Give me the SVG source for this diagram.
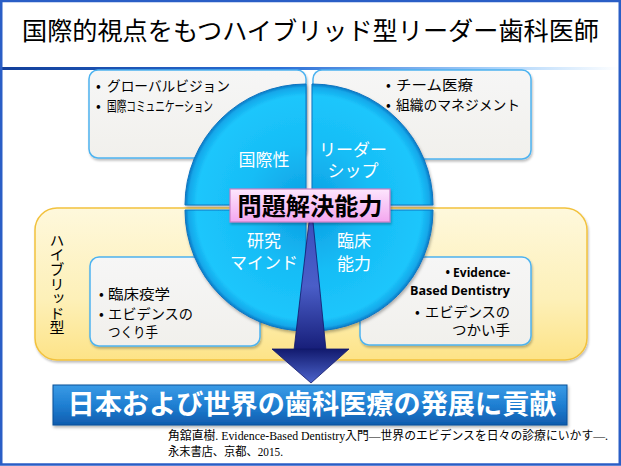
<svg xmlns="http://www.w3.org/2000/svg" width="621" height="466" viewBox="0 0 621 466">
<style>
.jp{font-family:"Noto Sans CJK JP","Liberation Sans",sans-serif;}
.bul{font-family:"Noto Sans CJK JP","Liberation Sans",sans-serif;font-size:14px;fill:#000;}
.ql{font-family:"Noto Sans CJK JP","Liberation Sans",sans-serif;font-size:17px;fill:#fff;text-anchor:middle;}
.box{fill:url(#boxg);stroke:#4db3f0;stroke-width:1.5;filter:url(#sh);}
.quad{stroke:#0b74c0;stroke-width:1;filter:url(#sh2);}
</style>
<defs>
<linearGradient id="hdr" x1="0" y1="0" x2="1" y2="0">
<stop offset="0" stop-color="#123f9a"/><stop offset="0.45" stop-color="#2b6fd6"/><stop offset="0.8" stop-color="#a9d2fa"/><stop offset="1" stop-color="#ffffff"/>
</linearGradient>
<linearGradient id="boxg" x1="0" y1="0" x2="0" y2="1">
<stop offset="0" stop-color="#f6f6f6"/><stop offset="1" stop-color="#f1f0ec"/>
</linearGradient>
<linearGradient id="yel" x1="0" y1="0" x2="0" y2="1">
<stop offset="0" stop-color="#fef8dc"/><stop offset="0.6" stop-color="#fdf0b8"/><stop offset="1" stop-color="#fde387"/>
</linearGradient>
<linearGradient id="pink" x1="0" y1="0" x2="0" y2="1">
<stop offset="0" stop-color="#fde6fd"/><stop offset="1" stop-color="#f3a6ef"/>
</linearGradient>
<linearGradient id="ban" x1="0" y1="0" x2="0" y2="1">
<stop offset="0" stop-color="#3a9be6"/><stop offset="0.5" stop-color="#1f7fd2"/><stop offset="1" stop-color="#0f5cae"/>
</linearGradient>
<linearGradient id="shaft" x1="0" y1="0" x2="0" y2="1">
<stop offset="0" stop-color="#3d4fbe"/><stop offset="0.5" stop-color="#4a5ec8"/><stop offset="1" stop-color="#161d78"/>
</linearGradient>
<linearGradient id="head" x1="0" y1="0" x2="0" y2="1">
<stop offset="0" stop-color="#121a6e"/><stop offset="1" stop-color="#4c64cc"/>
</linearGradient>
<radialGradient id="qTL" gradientUnits="userSpaceOnUse" cx="306" cy="205" r="121">
<stop offset="0" stop-color="#0c9ee2"/><stop offset="0.5" stop-color="#17bdf6"/><stop offset="0.9" stop-color="#1cc6fc"/><stop offset="0.97" stop-color="#14a8ea"/><stop offset="1" stop-color="#0b7ac6"/>
</radialGradient>
<radialGradient id="qTR" gradientUnits="userSpaceOnUse" cx="312" cy="205" r="121">
<stop offset="0" stop-color="#0c9ee2"/><stop offset="0.5" stop-color="#17bdf6"/><stop offset="0.9" stop-color="#1cc6fc"/><stop offset="0.97" stop-color="#14a8ea"/><stop offset="1" stop-color="#0b7ac6"/>
</radialGradient>
<radialGradient id="qBL" gradientUnits="userSpaceOnUse" cx="306" cy="210" r="121">
<stop offset="0" stop-color="#0c9ee2"/><stop offset="0.5" stop-color="#17bdf6"/><stop offset="0.9" stop-color="#1cc6fc"/><stop offset="0.97" stop-color="#14a8ea"/><stop offset="1" stop-color="#0b7ac6"/>
</radialGradient>
<radialGradient id="qBR" gradientUnits="userSpaceOnUse" cx="312" cy="210" r="121">
<stop offset="0" stop-color="#0c9ee2"/><stop offset="0.5" stop-color="#17bdf6"/><stop offset="0.9" stop-color="#1cc6fc"/><stop offset="0.97" stop-color="#14a8ea"/><stop offset="1" stop-color="#0b7ac6"/>
</radialGradient>
<filter id="sh" x="-10%" y="-10%" width="120%" height="130%">
<feDropShadow dx="1" dy="2" stdDeviation="1.2" flood-color="#000" flood-opacity="0.25"/>
</filter>
<filter id="sh2" x="-10%" y="-10%" width="120%" height="130%">
<feDropShadow dx="1" dy="2" stdDeviation="1.5" flood-color="#000" flood-opacity="0.3"/>
</filter>
</defs>

<rect x="0" y="0" width="621" height="466" fill="#ffffff"/>

<g id="title">
<text x="310.5" y="39.5" class="jp" font-size="25" text-anchor="middle" fill="#000" textLength="577" lengthAdjust="spacingAndGlyphs">国際的視点をもつハイブリッド型リーダー歯科医師</text>
<rect x="2" y="67" width="617" height="3" fill="url(#hdr)"/>
</g>

<g id="box-global">
<rect x="89" y="70" width="217" height="88" rx="9" class="box"/>
<text x="96" y="91" class="bul">•</text>
<text x="107" y="91" class="bul" textLength="123" lengthAdjust="spacingAndGlyphs">グローバルビジョン</text>
<text x="96" y="111" class="bul">•</text>
<text x="107" y="111" class="bul" textLength="106" lengthAdjust="spacingAndGlyphs">国際コミュニケーション</text>
</g>

<g id="box-leader">
<rect x="313" y="70" width="218" height="89" rx="9" class="box"/>
<text x="386" y="90" class="bul">•</text>
<text x="396" y="90" class="bul" font-size="15" textLength="77" lengthAdjust="spacingAndGlyphs">チーム医療</text>
<text x="386" y="110" class="bul">•</text>
<text x="396" y="110" class="bul" textLength="124" lengthAdjust="spacingAndGlyphs">組織のマネジメント</text>
</g>

<g id="hybrid">
<rect x="35" y="208" width="552" height="152" rx="22" fill="url(#yel)" stroke="#f2c23e" stroke-width="1.5" filter="url(#sh)"/>
<text x="57" y="233" class="jp" font-size="15" fill="#000" style="writing-mode:vertical-rl" textLength="102" lengthAdjust="spacingAndGlyphs">ハイブリッド型</text>
</g>

<g id="box-research">
<rect x="90" y="257" width="170" height="89" rx="9" class="box"/>
<text x="99" y="299" class="bul">•</text>
<text x="108" y="299" class="bul" font-size="15" textLength="62" lengthAdjust="spacingAndGlyphs">臨床疫学</text>
<text x="99" y="319" class="bul">•</text>
<text x="108" y="319" class="bul" textLength="85" lengthAdjust="spacingAndGlyphs">エビデンスの</text>
<text x="108" y="337" class="bul" textLength="50" lengthAdjust="spacingAndGlyphs">つくり手</text>
</g>

<g id="box-clinical">
<rect x="360" y="257" width="171" height="88" rx="9" class="box"/>
<text x="510" y="277" font-family="'Open Sans','Liberation Sans',sans-serif" font-weight="bold" font-size="12" text-anchor="end" fill="#000">• Evidence-</text>
<text x="510" y="295" font-family="'Open Sans','Liberation Sans',sans-serif" font-weight="bold" font-size="12" text-anchor="end" fill="#000" textLength="100" lengthAdjust="spacingAndGlyphs">Based Dentistry</text>
<text x="415" y="317" class="bul">•</text>
<text x="425" y="317" class="bul" textLength="85" lengthAdjust="spacingAndGlyphs">エビデンスの</text>
<text x="452" y="335" class="bul" textLength="58" lengthAdjust="spacingAndGlyphs">つかい手</text>
</g>

<g id="q-kokusai">
<path d="M306,205 L185,205 A121,121 0 0 1 306,84 Z" fill="url(#qTL)" class="quad"/>
<text x="264" y="166" class="ql" font-size="18">国際性</text>
</g>
<g id="q-leadership">
<path d="M312,205 L312,84 A121,121 0 0 1 433,205 Z" fill="url(#qTR)" class="quad"/>
<text x="353" y="156" class="ql" font-size="16">リーダー</text>
<text x="353" y="177" class="ql" font-size="16">シップ</text>
</g>
<g id="q-research">
<path d="M306,210 L306,331 A121,121 0 0 1 185,210 Z" fill="url(#qBL)" class="quad"/>
<text x="264" y="247" class="ql">研究</text>
<text x="264" y="269" class="ql" font-size="16">マインド</text>
</g>
<g id="q-clinical">
<path d="M312,210 L433,210 A121,121 0 0 1 312,331 Z" fill="url(#qBR)" class="quad"/>
<text x="354" y="247" class="ql">臨床</text>
<text x="354" y="270" class="ql">能力</text>
</g>

<g id="connectors">
<polygon points="309,222 313,222 326,350 294,350" fill="url(#shaft)" stroke="#10186a" stroke-width="0.8"/>
<polygon points="272,349 349,349 311,383" fill="url(#head)" stroke="#10186a" stroke-width="0.8"/>
</g>

<g id="problem-solving">
<rect x="230" y="189" width="160" height="33" fill="url(#pink)" stroke="#c77fc4" stroke-width="1.2" filter="url(#sh)"/>
<text x="310" y="215" class="jp" font-size="24" font-weight="bold" text-anchor="middle" fill="#000" textLength="145" lengthAdjust="spacingAndGlyphs">問題解決能力</text>
</g>

<g id="contribution">
<rect x="53" y="385" width="514" height="40" fill="url(#ban)" stroke="#0d4e98" stroke-width="1" filter="url(#sh2)"/>
<text x="312" y="414" class="jp" font-size="27" font-weight="bold" text-anchor="middle" fill="#fff" textLength="489" lengthAdjust="spacingAndGlyphs">日本および世界の歯科医療の発展に貢献</text>
</g>

<g id="citation">
<text x="168" y="440" font-family="'Liberation Serif','Noto Sans CJK JP',serif" font-size="12" fill="#000" textLength="440" lengthAdjust="spacingAndGlyphs">角舘直樹. Evidence-Based Dentistry入門―世界のエビデンスを日々の診療にいかす―.</text>
<text x="168" y="456" font-family="'Liberation Serif','Noto Sans CJK JP',serif" font-size="12" fill="#000" textLength="115" lengthAdjust="spacingAndGlyphs">永末書店、京都、2015.</text>
</g>

<rect x="1.25" y="1" width="618.5" height="463.5" fill="none" stroke="#2a5ec6" stroke-width="2.5"/>
</svg>
